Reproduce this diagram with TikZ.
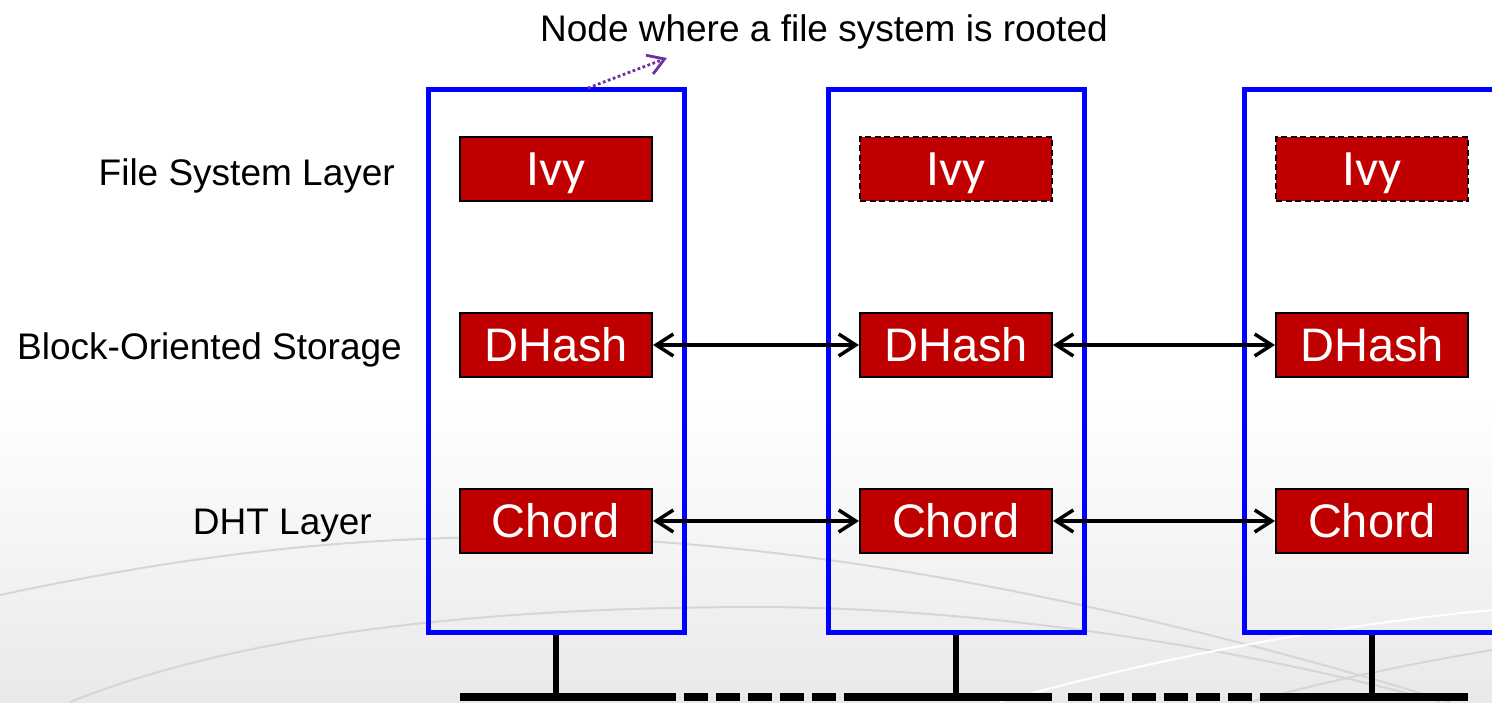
\documentclass[tikz,border=0pt]{standalone}
\usepackage{fontspec}
\setmainfont{Liberation Sans}
\newfontfamily\ivyfont{Carlito}
\usetikzlibrary{arrows.meta}
\definecolor{boxred}{RGB}{192,0,0}
\definecolor{rootpurple}{RGB}{112,48,160}
\definecolor{bggray}{RGB}{233,233,233}
\definecolor{arcgray}{RGB}{214,214,214}
\begin{document}
\begin{tikzpicture}[x=1pt,y=-1pt,
  host/.style={draw=blue, line width=5pt, minimum width=256pt, minimum height=543pt, inner sep=0pt},
  layerbox/.style={draw=black, line width=2.2pt, fill=boxred, text=white,
    minimum width=192pt, minimum height=64pt, inner sep=0pt,
    font=\fontsize{47}{50}\selectfont, text height=33.6pt, text depth=0pt},
  ivybox/.style={layerbox, font=\ivyfont\fontsize{51}{54}\selectfont, text height=33pt},
  replica/.style={line width=2.6pt, dash pattern=on 6pt off 3.5pt},
  link/.style={{Straight Barb[length=17pt,width=22pt]}-{Straight Barb[length=17pt,width=22pt]}, line width=3.5pt},
  lbl/.style={font=\fontsize{37}{40}\selectfont, inner sep=0pt, anchor=base east},
  stem/.style={line width=6.5pt},
  bus/.style={line width=8pt},
  busdash/.style={bus, dash pattern=on 24pt off 8pt},
  arc/.style={arcgray, line width=2pt},
  glint/.style={white, line width=2pt}
]
\useasboundingbox (0,0) rectangle (1492,702);

% backdrop: white fading to light grey, with a few sweeping arcs
\fill[white] (0,0) rectangle (1492,702);
\shade[top color=white, bottom color=bggray] (0,400) rectangle (1492,702);
\draw[arc] (0,595) .. controls (220,548) and (380,536) .. (540,537)
                  .. controls (820,540) and (1150,610) .. (1450,702);
\draw[arc] (70,702) .. controls (250,630) and (500,607) .. (760,607)
                   .. controls (1000,608) and (1250,650) .. (1440,702);
\draw[glint] (1000,702) .. controls (1120,668) and (1300,628) .. (1492,610);
\draw[arc] (1250,702) .. controls (1330,680) and (1420,662) .. (1492,650);

% hosts
\node[host] (hostA) at (556,360.5) {};
\node[host] (hostB) at (956,360.5) {};
\node[host] (hostC) at (1372,360.5) {};

% layer boxes
\node[ivybox] (ivyA) at (556,169) {Ivy};
\node[ivybox, replica] (ivyB) at (956,169) {Ivy};
\node[ivybox, replica] (ivyC) at (1372,169) {Ivy};
\node[layerbox] (dhA) at (556,345) {DHash};
\node[layerbox] (dhB) at (956,345) {DHash};
\node[layerbox] (dhC) at (1372,345) {DHash};
\node[layerbox] (chA) at (556,521) {Chord};
\node[layerbox] (chB) at (956,521) {Chord};
\node[layerbox] (chC) at (1372,521) {Chord};

% peer links
\draw[link] (dhA.east) -- (dhB.west);
\draw[link] (dhB.east) -- (dhC.west);
\draw[link] (chA.east) -- (chB.west);
\draw[link] (chB.east) -- (chC.west);

% layer names
\node[lbl] (lblfs) at (395,185.5) {File System Layer};
\node[lbl] (lblbos) at (402,359.5) {Block-Oriented Storage};
\node[lbl] (lbldht) at (372,534) {DHT Layer};
\node[lbl, anchor=base west] (caption) at (540,41.5) {Node where a file system is rooted};

% pointer to the root node
\coordinate (rootfrom) at (588,88);
\coordinate (rootto) at (667,58);
\draw[rootpurple, line width=2.8pt, dash pattern=on 2.8pt off 2.5pt,
      -{Straight Barb[length=16pt,width=20pt]}] (rootfrom) -- (rootto);

% network bus
\coordinate (b0) at (460,697);
\coordinate (b1) at (676,697);
\coordinate (b2) at (684,697);
\coordinate (b3) at (836,697);
\coordinate (b4) at (844,697);
\coordinate (b5) at (1052,697);
\coordinate (b6) at (1068,697);
\coordinate (b7) at (1252,697);
\coordinate (b8) at (1260,697);
\coordinate (b9) at (1468,697);
\draw[bus] (b0) -- (b1);
\draw[busdash] (b2) -- (b3);
\draw[bus] (b4) -- (b5);
\draw[busdash] (b6) -- (b7);
\draw[bus] (b8) -- (b9);
\draw[stem] (hostA.south) -- (hostA.south |- b0);
\draw[stem] (hostB.south) -- (hostB.south |- b0);
\draw[stem] (hostC.south) -- (hostC.south |- b0);
\end{tikzpicture}
\end{document}
